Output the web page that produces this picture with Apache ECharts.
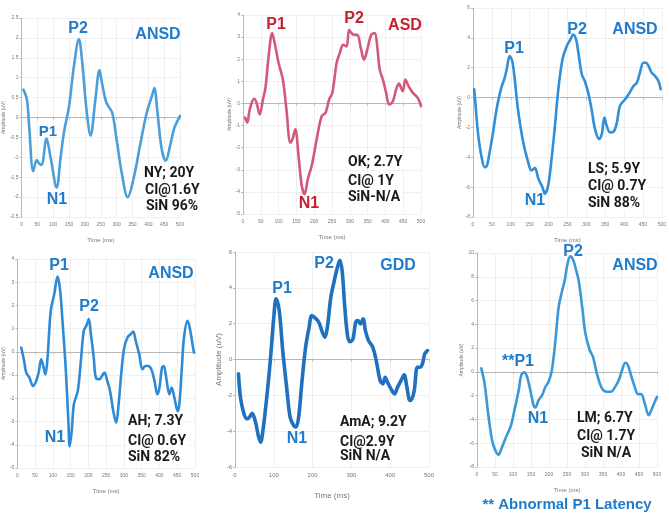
<!DOCTYPE html>
<html>
<head>
<meta charset="utf-8">
<script src="https://cdn.jsdelivr.net/npm/echarts@6/dist/echarts.min.js"></script>
<style>
  html, body { margin: 0; padding: 0; background: #fff; }
  #main { width: 669px; height: 517px; }
</style>
</head>
<body>
<div id="main"></div>
<script>
// NY; 20Y  (ANSD)
const timeNY = [6, 17, 24, 37, 48, 55, 63, 79, 92, 111, 123, 134, 150, 165, 181, 191, 205, 218, 233, 246, 254, 268, 286, 301, 317, 335, 354, 374, 395, 411, 419, 428, 442, 455, 469, 481, 500]
const ampNY = [0.70, 0.45, -0.2, -1.35, -1.07, -1.15, -1.19, -0.53, -1.02, -1.76, -1.02, -0.37, 0.29, 1.27, 1.97, 1.43, 0.2, -0.45, 0.45, 1.19, 0.86, 0.37, 0.12, -0.61, -1.43, -2.0, -1.52, -0.7, 0.12, 0.53, 0.74, 0.2, -0.78, -1.09, -0.7, -0.29, 0.04]

// OK; 2.7Y  (ASD)
const timeOK = [6, 12, 19, 31, 38, 47, 56, 63, 72, 82, 89, 100, 112, 122, 133, 139, 147, 156, 165, 173, 182, 193, 207, 221, 232, 242, 251, 263, 272, 281, 291, 298, 305, 312, 321, 331, 340, 349, 360, 370, 377, 384, 393, 402, 411, 421, 430, 438, 444, 449, 456, 465, 477, 491, 500]
const ampOK = [-0.64, -0.87, -0.27, 0.21, 0.03, -0.5, 0.18, 0.7, 2.13, 3.18, 2.73, 1.83, 1.08, -0.27, -1.77, -1.62, -1.17, -2.37, -3.72, -4.1, -3.42, -2.82, -1.62, -0.57, -0.42, 0.18, 0.48, 1.83, 2.28, 2.65, 2.58, 3.33, 3.18, 3.1, 3.1, 2.5, 1.98, 2.43, 3.1, 3.18, 2.58, 1.53, 1.08, 0.48, -0.05, 0.1, 0.63, 0.9, 0.7, 0.55, 1.08, 0.78, 0.48, 0.25, -0.12]

// LS; 5.9Y  (ANSD)
const timeLS = [3, 7, 13, 22, 31, 37, 44, 53, 64, 75, 84, 90, 97, 104, 111, 119, 133, 146, 155, 164, 173, 184, 190, 199, 208, 217, 226, 237, 248, 258, 265, 273, 279, 288, 296, 305, 314, 323, 334, 341, 348, 354, 363, 372, 381, 389, 403, 412, 425, 434, 442, 451, 458, 465, 473, 482, 491, 497]
const ampLS = [0.56, -0.56, -2.33, -3.89, -4.67, -4.56, -3.67, -2.33, -0.56, 0.67, 1.33, 2.0, 2.78, 2.44, 1.11, -0.78, -3.0, -4.33, -4.89, -4.71, -5.44, -6.0, -6.44, -5.89, -4.11, -1.89, 0.56, 2.56, 3.44, 3.89, 4.22, 3.89, 3.0, 1.56, 1.11, 0.33, -0.78, -2.11, -2.78, -2.44, -1.33, -1.89, -2.33, -2.29, -1.67, -0.56, -0.11, 0.22, 0.78, 1.0, 1.67, 2.33, 2.33, 2.11, 1.67, 1.44, 1.11, 0.56]

// AH; 7.3Y  (ANSD)
const timeAH = [11, 19, 25, 34, 44, 53, 60, 67, 73, 79, 85, 94, 104, 113, 120, 127, 136, 144, 147, 153, 159, 170, 178, 187, 194, 201, 207, 215, 221, 231, 238, 245, 253, 261, 270, 278, 284, 294, 301, 310, 319, 326, 333, 343, 352, 360, 368, 377, 386, 394, 400, 407, 412, 419, 428, 434, 442, 451, 456, 463, 469, 479, 485, 493, 497]
const ampAH = [0.19, -0.39, -0.89, -1.11, -1.47, -1.25, -0.89, -0.32, -0.61, -0.97, -0.24, 1.77, 2.49, 3.24, 2.71, 1.34, -0.68, -3.13, -4.06, -3.42, -2.26, -1.69, -0.53, 0.91, 1.12, 1.41, 0.76, -0.24, -1.11, -1.18, -1.04, -0.89, -1.25, -1.69, -2.55, -3.05, -2.41, -0.68, 0.19, 0.62, 0.76, 0.88, 0.48, -0.1, -0.75, -0.61, -0.61, -0.75, -1.25, -1.83, -1.54, -0.68, -0.61, -1.11, -1.83, -1.54, -1.97, -2.55, -2.26, -0.68, 0.62, 1.34, 1.05, 0.33, -0.03]

// AmA; 9.2Y  (GDD)
const timeAmA = [9, 14, 23, 31, 37, 44, 53, 60, 66, 72, 81, 91, 100, 106, 114, 123, 134, 142, 151, 157, 164, 172, 182, 191, 198, 206, 216, 225, 232, 238, 247, 256, 264, 270, 276, 283, 290, 296, 304, 311, 317, 323, 330, 336, 344, 355, 364, 374, 381, 387, 393, 402, 411, 419, 428, 436, 443, 451, 456, 462, 470, 476, 483, 489, 496]
const ampAmA = [-0.8, -2.1, -3.03, -3.31, -3.22, -3.0, -3.5, -4.24, -4.61, -3.96, -2.29, -0.06, 2.36, 3.39, 2.73, 0.5, -1.73, -3.22, -3.68, -3.78, -3.22, -1.36, 0.69, 1.8, 2.46, 2.33, 2.08, 1.53, 1.25, 1.8, 3.48, 4.41, 5.15, 5.53, 4.97, 2.92, 1.34, 1.0, 1.15, 2.08, 2.18, 1.99, 2.27, 1.62, 1.06, 0.69, -0.06, -1.17, -1.36, -0.99, -1.27, -1.64, -1.92, -1.54, -1.17, -0.86, -1.54, -2.29, -2.2, -1.73, -0.43, -0.43, -0.24, 0.32, 0.5]

// LM; 6.7Y  (ANSD)
const timeLM = [12, 21, 31, 42, 51, 60, 68, 79, 93, 106, 116, 123, 131, 139, 148, 157, 162, 171, 181, 190, 199, 208, 218, 227, 236, 244, 250, 259, 267, 275, 282, 292, 301, 313, 322, 333, 347, 361, 372, 384, 394, 403, 412, 419, 429, 438, 447, 456, 466, 477, 486, 500]
const ampLM = [0.3, -0.97, -3.5, -5.75, -6.6, -6.96, -6.45, -5.6, -4.63, -2.94, -1.53, -0.27, -0.04, -0.41, -1.53, -2.8, -3.0, -2.38, -1.95, -1.25, -0.83, 0.15, 2.69, 5.5, 6.76, 7.75, 8.87, 9.72, 9.43, 8.59, 7.75, 5.5, 3.25, 1.84, 1.28, -0.13, -1.39, -1.67, -1.67, -1.25, -0.69, 0.15, 0.77, 0.58, -0.41, -1.25, -1.87, -1.87, -2.66, -3.64, -3.08, -2.1]

// panel settings: y range / step, x step
const yMins = [-2.5, -5, -8, -5, -6, -8]
const yMaxs = [2.5, 4, 6, 4, 6, 10]
const ySteps = [0.5, 1, 2, 1, 2, 2]
const xSteps = [50, 50, 50, 50, 100, 50]

const seriesTimes = [timeNY, timeOK, timeLS, timeAH, timeAmA, timeLM]
const seriesAmps = [ampNY, ampOK, ampLS, ampAH, ampAmA, ampLM]

const grids = [
    {left: 21, top: 18, width: 159, height: 199},
    {left: 243, top: 15, width: 178, height: 199},
    {left: 473, top: 8, width: 189, height: 209},
    {left: 16, top: 259, width: 179, height: 209},
    {left: 235, top: 252, width: 194, height: 215},
    {left: 477, top: 253, width: 180, height: 214}
]
const lineColors = ['#4a9fdb', '#d4587a', '#2f8fd8', '#2f8ad6', '#1f70bd', '#3a97d8']
const lineWidths = [2.6, 2.6, 2.6, 2.6, 3.6, 2.6]

const blue = '#1f7bcb'
const red = '#c8202e'

let myChart = echarts.init(document.getElementById('main'))

let xAxes = [], yAxes = [], series = []
for (let i = 0; i < 6; i++) {
    let big = i === 4
    xAxes.push({
        type: 'value', gridIndex: i, min: 0, max: 500, interval: xSteps[i],
        name: 'Time (ms)', nameLocation: 'middle', nameGap: big ? 25 : 20,
        nameTextStyle: {fontSize: big ? 8 : 6, color: '#777', fontFamily: 'Liberation Sans'},
        axisLine: {lineStyle: {color: '#aaa', width: 0.8}},
        axisTick: {show: true, length: 2, lineStyle: {color: '#bbb'}},
        axisLabel: {fontSize: big ? 6 : 5, color: '#777', margin: 5},
        splitLine: {show: true, lineStyle: {color: '#ececec', width: 0.8}}
    })
    yAxes.push({
        type: 'value', gridIndex: i, min: yMins[i], max: yMaxs[i], interval: ySteps[i],
        name: 'Amplitude (uV)', nameLocation: 'middle', nameRotate: 90, nameGap: 10,
        nameTextStyle: {fontSize: big ? 8 : 5, color: '#777', fontFamily: 'Liberation Sans'},
        axisLine: {show: true, lineStyle: {color: '#aaa', width: 0.8}},
        axisTick: {show: true, length: 2, lineStyle: {color: '#bbb'}},
        axisLabel: {fontSize: big ? 6 : 5, color: '#777', margin: 3},
        splitLine: {show: true, lineStyle: {color: '#ececec', width: 0.8}}
    })
    series.push({
        type: 'line', xAxisIndex: i, yAxisIndex: i,
        data: seriesTimes[i].map((t, k) => [t, seriesAmps[i][k]]),
        smooth: 0.35, showSymbol: false, silent: true,
        lineStyle: {color: lineColors[i], width: lineWidths[i], cap: 'round', join: 'round'}
    })
}

function txt(x, y, s, color, size) {
    return {
        type: 'text', x: x, y: y, silent: true, z: 10,
        style: {text: s, fill: color, fontSize: size, fontWeight: 'bold',
            fontFamily: 'Liberation Sans', align: 'center', verticalAlign: 'middle'}
    }
}
function info(x, y, s) {
    return {
        type: 'text', x: x, y: y, silent: true, z: 10,
        style: {text: s, fill: '#1a1a1a', fontSize: 14, fontWeight: 'bold',
            fontFamily: 'Roboto', align: 'left', verticalAlign: 'middle',
            backgroundColor: '#fff', padding: [0, 2, 0, 2]}
    }
}

const graphics = [
    // panel 1
    txt(78, 29, 'P2', blue, 16), txt(158, 35, 'ANSD', blue, 16),
    txt(48, 132, 'P1', blue, 15), txt(57, 200, 'N1', blue, 16),
    info(142, 173, 'NY; 20Y'), info(143, 190, 'CI@1.6Y'), info(144, 206, 'SiN 96%'),
    // panel 2
    txt(276, 25, 'P1', red, 16), txt(354, 19, 'P2', red, 16), txt(405, 26, 'ASD', red, 16),
    txt(309, 204, 'N1', red, 16),
    info(346, 162, 'OK; 2.7Y'), info(346, 181, 'CI@ 1Y'), info(346, 197, 'SiN-N/A'),
    // panel 3
    txt(514, 49, 'P1', blue, 16), txt(577, 30, 'P2', blue, 16), txt(635, 30, 'ANSD', blue, 16),
    txt(535, 201, 'N1', blue, 16),
    info(586, 169, 'LS; 5.9Y'), info(586, 186, 'CI@ 0.7Y'), info(586, 203, 'SiN 88%'),
    // panel 4
    txt(59, 266, 'P1', blue, 16), txt(171, 274, 'ANSD', blue, 16), txt(89, 307, 'P2', blue, 16),
    txt(55, 438, 'N1', blue, 16),
    info(126, 421, 'AH; 7.3Y'), info(126, 441, 'CI@ 0.6Y'), info(126, 457, 'SiN 82%'),
    // panel 5
    txt(324, 264, 'P2', blue, 16), txt(398, 266, 'GDD', blue, 16), txt(282, 289, 'P1', blue, 16),
    txt(297, 439, 'N1', blue, 16),
    info(338, 422, 'AmA; 9.2Y'), info(338, 442, 'CI@2.9Y'), info(338, 456, 'SiN N/A'),
    // panel 6
    txt(573, 252, 'P2', blue, 16), txt(635, 266, 'ANSD', blue, 16), txt(518, 362, '**P1', blue, 16),
    txt(538, 419, 'N1', blue, 16),
    info(575, 418, 'LM; 6.7Y'), info(575, 436, 'CI@ 1.7Y'), info(579, 453, 'SiN N/A'),
    txt(567, 505, '** Abnormal P1 Latency', blue, 15)
]

myChart.setOption({
    backgroundColor: '#fff',
    animation: false,
    grid: grids,
    xAxis: xAxes,
    yAxis: yAxes,
    series: series,
    graphic: graphics
})
</script>
</body>
</html>
